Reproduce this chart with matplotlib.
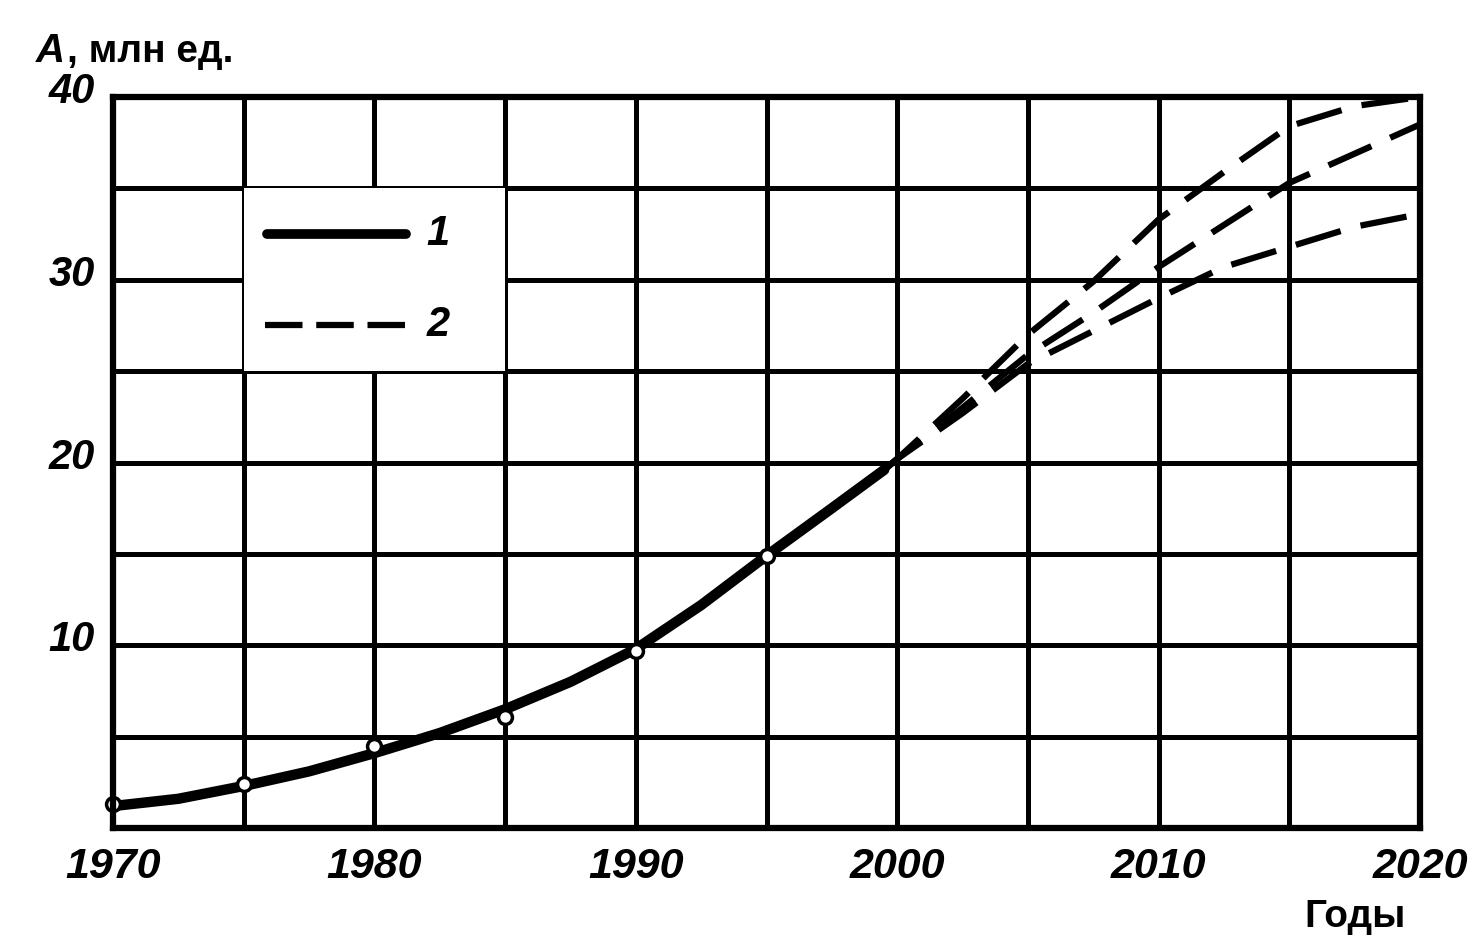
import matplotlib
matplotlib.use("Agg")
import matplotlib.pyplot as plt
from matplotlib.patches import Rectangle
from matplotlib.transforms import offset_copy, blended_transform_factory

# ---- data ----
solid_years = [1970, 1972.5, 1975, 1977.5, 1980, 1982.5, 1985, 1987.5, 1990, 1992.5, 1995, 1997.5, 1999.5]
solid_vals = [1.2, 1.6, 2.3, 3.1, 4.1, 5.2, 6.5, 8.0, 9.8, 12.2, 14.9, 17.5, 19.6]

point_years = [1970, 1975, 1980, 1985, 1990, 1995]
point_vals = [1.3, 2.4, 4.5, 6.1, 9.7, 14.9]

fc_years = [1999.5, 2000, 2002.5, 2005, 2007.5, 2010, 2012.5, 2015, 2017.5, 2020]
fc_upper = [19.6, 20.2, 23.5, 27.0, 29.9, 33.3, 35.9, 38.4, 39.5, 40.0]
fc_middle = [19.6, 20.2, 23.0, 25.9, 28.2, 30.7, 33.0, 35.3, 36.9, 38.5]
fc_lower = [19.6, 20.2, 22.7, 25.4, 27.2, 29.0, 30.7, 31.8, 32.9, 33.6]

x_ticks = [1970, 1980, 1990, 2000, 2010, 2020]
x_ticklabels = ["1970", "1980", "1990", "2000", "2010", "2020"]
y_ticks = [10, 20, 30, 40]
y_ticklabels = ["10", "20", "30", "40"]
legend_labels = ["1", "2"]

FONT = ["Liberation Sans", "DejaVu Sans"]

fig = plt.figure(figsize=(14.78, 9.5), dpi=100)
ax = fig.add_axes([0.0765, 0.1284, 0.8843, 0.7695])
ax.set_xlim(1970, 2020)
ax.set_ylim(0, 40)

# grid
for gx in range(1970, 2021, 5):
    ax.axvline(gx, color="black", lw=3.6, zorder=1)
for gy in range(0, 41, 5):
    ax.axhline(gy, color="black", lw=3.6, zorder=1)

for s in ax.spines.values():
    s.set_linewidth(4.5)
    s.set_zorder(5)

# legend area (white box over grid)
ax.add_patch(Rectangle((1975, 25), 10, 10, facecolor="white", edgecolor="none", zorder=2))
ax.plot([1975.9, 1981.2], [32.5, 32.5], color="black", lw=7, solid_capstyle="round", zorder=3)
ax.plot([1975.8, 1981.2], [27.5, 27.5], color="black", lw=4.5, dashes=(6, 2.2), zorder=3)
for yy, lab in zip([32.5, 27.5], legend_labels):
    ax.text(1982.0, yy, lab, fontsize=30, fontweight="bold", fontstyle="italic",
            family=FONT, va="center", ha="left", zorder=4)

# curves
ax.plot(solid_years, solid_vals, color="black", lw=7.5, solid_capstyle="round",
        solid_joinstyle="round", zorder=3)
for fc in (fc_upper, fc_middle, fc_lower):
    ax.plot(fc_years, fc, color="black", lw=4.5, dashes=(7.5, 3.3), zorder=3)
ax.plot(point_years, point_vals, linestyle="none", marker="o", ms=10, mfc="white",
        mec="black", mew=2.5, zorder=4, clip_on=False)

# x ticks
ax.set_xticks(x_ticks)
ax.set_xticklabels(x_ticklabels)
ax.set_yticks([])
ax.tick_params(length=0, pad=14)
for lab in ax.get_xticklabels():
    lab.set_family(FONT)
    lab.set_fontsize(31)
    lab.set_fontweight("bold")
    lab.set_fontstyle("italic")

# y tick labels (slightly above their grid lines, as in the original)
ytrans = offset_copy(blended_transform_factory(ax.transAxes, ax.transData),
                     fig=fig, x=-18, y=5, units="dots")
for yv, lab in zip(y_ticks, y_ticklabels):
    ax.text(0, yv, lab, transform=ytrans, fontsize=30, fontweight="bold",
            fontstyle="italic", family=FONT, ha="right", va="center", clip_on=False)

# axis titles
fig.text(0.024, 0.935, "А", fontsize=29, fontweight="bold", fontstyle="italic",
         family=FONT, ha="left", va="baseline")
fig.text(0.0455, 0.935, ", млн ед.", fontsize=28, fontweight="bold", family=FONT,
         ha="left", va="baseline")
fig.text(0.917, 0.024, "Годы", fontsize=28, fontweight="bold", family=FONT,
         ha="center", va="baseline")

fig.savefig("out.png", dpi=100)
